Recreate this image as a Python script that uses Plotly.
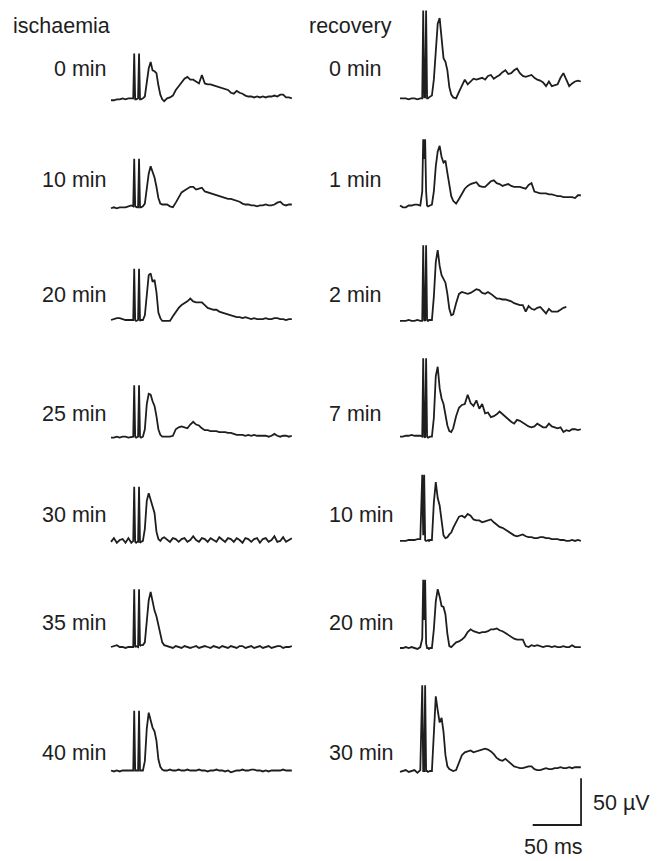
import plotly.graph_objects as go

# ---------------- data (time in ms, amplitude in microvolts) ----------------
t_ms = [0, 3, 6, 9, 12, 15, 18, 21,
        23, 24, 25, 26, 27, 28, 29, 30, 31,
        33, 35, 37, 39, 41, 43, 45, 47, 49, 51, 53, 55,
        58, 61, 64, 67, 70, 73, 76, 79, 82, 85, 88,
        91, 94, 97, 100, 103, 106, 109, 112, 115, 118, 121,
        124, 127, 130, 133, 136, 139, 142, 145, 148, 151, 154,
        157, 160, 163, 166, 169, 172, 175, 178, 181, 184, 187]

ischaemia_labels = ["0 min", "10 min", "20 min", "25 min", "30 min", "35 min", "40 min"]
recovery_labels = ["0 min", "1 min", "2 min", "7 min", "10 min", "20 min", "30 min"]

isch_0 = [-1, -1, 0, 0, 1, 0, 1, 1,
          1, 49, 0, 0, 1, 1, 49, 0, 0,
          1, 3, 18, 33, 40, 31, 30, 28, 15, 5, 0, -2,
          1, 2, 4, 10, 14, 18, 22, 24, 21, 21, 19,
          17, 26, 17, 16, 16, 15, 14, 13, 12, 11, 10,
          7, 6, 9, 7, 6, 4, 3, 3, 2, 3, 2,
          3, 2, 3, 3, 4, 3, 5, 5, 2, 2, 1]
isch_10 = [-1, 0, -1, 0, 0, 0, 1, 2,
           1, 52, 1, 0, 0, 0, 52, 0, 0,
           1, 4, 20, 36, 44, 38, 32, 22, 10, 4, 3, 3,
           3, 1, 0, 5, 11, 16, 18, 20, 22, 22, 19,
           20, 21, 17, 16, 15, 14, 13, 12, 11, 10, 9,
           9, 8, 7, 6, 4, 3, 3, 2, 2, 1, 2,
           2, 3, 2, 2, 3, 5, 6, 3, 2, 3, 3]
isch_20 = [0, 1, 2, 2, 1, 0, 0, 0,
           0, 55, 0, -1, 0, 0, 55, -1, 0,
           0, 5, 30, 48, 50, 41, 43, 30, 8, 2, -1, -1,
           -1, -1, 4, 9, 13, 16, 18, 20, 23, 20, 19,
           19, 19, 16, 13, 12, 11, 11, 9, 8, 7, 6,
           5, 4, 3, 3, 2, 3, 2, 1, 2, 1, 1,
           1, 2, 1, 1, 2, 2, 1, 1, 0, 1, 1]
isch_25 = [-1, -1, 0, -1, 0, 0, -1, 0,
           0, 55, 0, -1, 0, 0, 55, 0, -1,
           0, 8, 35, 46, 45, 38, 33, 22, 8, 2, 0, 0,
           0, 0, 1, 8, 10, 11, 10, 9, 13, 16, 13,
           12, 9, 7, 7, 6, 6, 6, 5, 5, 5, 4,
           4, 3, 2, 2, 2, 1, 2, 1, 2, 1, 1,
           1, 1, 0, 1, 3, 1, 0, 1, 1, 0, 1]
isch_30 = [-2, 2, -3, 0, 1, -3, 2, -3,
           -1, 57, -2, -3, -2, -2, 57, -3, -2,
           -1, 12, 42, 50, 42, 35, 29, 9, 1, -1, 2, 3,
           0, -2, 2, 1, -2, 1, 2, -2, 0, 4, 0,
           -2, 2, 1, -2, 2, 0, -2, 3, 0, -2, 2,
           1, -2, 2, 0, -3, 2, 1, -2, 1, 2, -3,
           1, 2, -2, 0, 4, -2, -1, 3, -2, 0, 2]
isch_35 = [0, 1, 2, 0, 0, -1, 0, 0,
           0, 62, 0, 1, 0, 0, 62, 1, 2,
           2, 5, 28, 50, 59, 48, 39, 33, 24, 13, 5, 2,
           1, 0, -1, 1, 0, -1, 1, 0, -1, 0, 1,
           -1, 0, 1, 0, -1, 1, 0, -1, 1, 0, -1,
           1, 0, -1, 1, 1, -1, 0, 1, -1, 0, 1,
           -1, 0, 1, -1, 0, 1, 1, -1, 0, 0, 1]
isch_40 = [0, -1, 0, -1, 0, 0, 0, 0,
           0, 64, 0, 0, 0, 0, 64, 0, 0,
           0, 10, 45, 62, 55, 46, 42, 32, 12, 4, 1, 0,
           0, 1, 0, 0, 1, 0, 0, 1, 0, 0, 0,
           1, 0, 0, -1, 0, 0, 1, 0, 0, -1, 0,
           -2, -1, 0, 0, 1, 0, 0, 1, 1, 0, 0,
           -1, 0, -1, 0, 0, 0, 0, 1, 0, 0, 0]

reco_0 = [0, 0, 0, -1, 0, 0, -1, 0,
          0, 94, 1, 1, 94, 0, 0, 1, 2,
          3, 20, 55, 80, 86, 60, 43, 39, 30, 12, 4, 1,
          0, 7, 14, 20, 15, 18, 21, 20, 21, 22, 20,
          24, 25, 21, 23, 25, 28, 30, 26, 27, 30, 32,
          27, 24, 23, 24, 25, 22, 20, 19, 17, 13, 18,
          13, 14, 15, 22, 27, 20, 13, 16, 18, 19, 18]
reco_1 = [0, -2, -2, 0, 0, 1, 1, 0,
          15, 71, 50, 71, 15, 0, -1, 0, 0,
          1, 15, 42, 58, 64, 52, 46, 48, 35, 22, 10, 5,
          2, 7, 13, 18, 21, 23, 24, 25, 21, 20, 20,
          23, 26, 27, 24, 23, 21, 22, 23, 21, 20, 20,
          20, 19, 18, 22, 24, 15, 14, 13, 13, 13, 12,
          12, 11, 10, 10, 9, 9, 9, 9, 8, 11, 11]
reco_2 = [-1, -1, -1, 0, -1, -1, 0, -1,
          -1, 80, 0, -1, 80, 0, -1, 0, 0,
          0, 25, 62, 75, 58, 48, 44, 40, 28, 12, 5, 6,
          18, 28, 30, 29, 28, 29, 31, 33, 32, 29, 28,
          30, 28, 25, 23, 23, 22, 22, 21, 20, 18, 17,
          16, 16, 9, 15, 12, 11, 13, 14, 10, 7, 12,
          9, 9, 9, 11, 13, 14, None, None, None, None, None]
reco_7 = [0, 0, 1, 1, 2, 1, 1, 1,
          0, 84, 0, -1, 84, 0, -1, 0, 0,
          0, 20, 65, 75, 52, 41, 35, 23, 12, 6, 5, 9,
          22, 31, 34, 35, 45, 36, 33, 39, 30, 35, 25,
          26, 21, 22, 24, 27, 24, 21, 18, 16, 14, 18,
          17, 15, 13, 11, 10, 11, 14, 12, 10, 10, 14,
          11, 10, 9, 10, 5, 7, 6, 8, 8, 7, 8]
reco_10 = [-1, -1, -1, 0, 0, 0, 1, 1,
           70, 5, 70, 0, -1, 0, 0, -1, 0,
           0, 40, 62, 45, 37, 22, 5, 2, 3, 6, 8, 13,
           19, 25, 26, 24, 28, 26, 22, 21, 21, 19, 20,
           21, 22, 19, 16, 14, 13, 11, 9, 7, 5, 4,
           5, 6, 4, 3, 3, 2, 2, 3, 3, 2, 2,
           1, 1, 1, 0, 0, -1, -1, 0, -1, 0, -1]
reco_20 = [0, 0, 1, 0, 1, 0, -1, 1,
           10, 73, 30, 73, 5, 0, 0, -1, 0,
           0, 20, 50, 63, 55, 45, 44, 36, 15, 2, 1, 3,
           6, 7, 9, 12, 17, 20, 18, 17, 16, 17, 17,
           18, 20, 20, 21, 19, 18, 16, 14, 12, 10, 9,
           9, 9, 2, 1, 3, 2, 3, 2, 1, 2, 2,
           1, 2, 1, 1, 2, 1, 1, 3, 1, 1, 1]
reco_30 = [-1, 0, 1, -1, 0, 1, -2, 1,
           92, 0, 0, 92, 0, 0, -1, 0, 0,
           0, 40, 80, 65, 52, 57, 42, 17, 5, 2, 1, 0,
           1, 10, 17, 20, 21, 22, 20, 21, 22, 23, 24,
           23, 21, 18, 14, 12, 11, 13, 10, 8, 5, 4,
           3, 3, 4, 5, 5, 2, 1, 1, 2, 3, 2,
           2, 3, 3, 4, 3, 3, 4, 3, 4, 4, 4]

ischaemia_uV = [isch_0, isch_10, isch_20, isch_25, isch_30, isch_35, isch_40]
recovery_uV = [reco_0, reco_1, reco_2, reco_7, reco_10, reco_20, reco_30]

scale_x_ms = [0, 50, 50]
scale_y_uV = [0, 0, 50]

for tr in ischaemia_uV + recovery_uV:
    assert len(tr) == len(t_ms), len(tr)

# ---------------- layout geometry (pixels) ----------------
W, H = 660, 861
PX_PER_MS = 0.967
PX_PER_UV = 0.933
X_RANGE = [-3, 192]
Y_RANGE = [-14, 101]
col_x0 = [111, 400]
base_y = [[99.3, 207.3, 320, 436.7, 540, 647, 770.5],
          [98.3, 205.5, 320, 436.7, 540, 648, 771]]
label_y = [69, 180.5, 295, 414, 514.5, 622.5, 753]
LINE = "#1e1e1e"
FONT = dict(family="Liberation Sans, Arial, sans-serif", size=21.5, color="#1e1e1e")

fig = go.Figure()
layout_axes = {}
panel = [0]


def add_panel(xs, ys, x0, b, xr, yr, width):
    panel[0] += 1
    k = panel[0]
    xname = "x" if k == 1 else f"x{k}"
    yname = "y" if k == 1 else f"y{k}"
    xdom = [(x0 + xr[0] * PX_PER_MS) / W, (x0 + xr[1] * PX_PER_MS) / W]
    ydom = [1 - (b - yr[0] * PX_PER_UV) / H, 1 - (b - yr[1] * PX_PER_UV) / H]
    layout_axes["xaxis" if k == 1 else f"xaxis{k}"] = dict(
        domain=xdom, range=xr, visible=False, fixedrange=True, anchor=yname)
    layout_axes["yaxis" if k == 1 else f"yaxis{k}"] = dict(
        domain=ydom, range=yr, visible=False, fixedrange=True, anchor=xname)
    fig.add_trace(go.Scatter(x=xs, y=ys, xaxis=xname, yaxis=yname, mode="lines",
                             line=dict(color=LINE, width=width, shape="linear"),
                             connectgaps=False, showlegend=False, hoverinfo="skip"))


for col, series in enumerate([ischaemia_uV, recovery_uV]):
    for row, vals in enumerate(series):
        add_panel(t_ms, vals, col_x0[col], base_y[col][row], X_RANGE, Y_RANGE, 1.8)

# scale bar (same ms / uV scaling as traces)
add_panel(scale_x_ms, scale_y_uV, 532.7, 825, [-3, 53], [-3, 53], 1.8)

annotations = []
annotations.append(dict(text="ischaemia", x=11 / W, y=1 - 26 / H, xanchor="left", yanchor="middle"))
annotations.append(dict(text="recovery", x=307 / W, y=1 - 26 / H, xanchor="left", yanchor="middle"))
for i, lab in enumerate(ischaemia_labels):
    annotations.append(dict(text=lab, x=109 / W, y=1 - label_y[i] / H, xanchor="right", yanchor="middle"))
for i, lab in enumerate(recovery_labels):
    annotations.append(dict(text=lab, x=327 / W, y=1 - label_y[i] / H, xanchor="left", yanchor="middle"))
annotations.append(dict(text="50 µV", x=591 / W, y=1 - 803 / H, xanchor="left", yanchor="middle"))
annotations.append(dict(text="50 ms", x=553 / W, y=1 - 847 / H, xanchor="center", yanchor="middle"))
for a in annotations:
    a.update(xref="paper", yref="paper", showarrow=False, font=FONT)

fig.update_layout(width=W, height=H, margin=dict(l=0, r=0, t=0, b=0),
                  paper_bgcolor="white", plot_bgcolor="rgba(0,0,0,0)",
                  annotations=annotations, showlegend=False, **layout_axes)

fig.write_html("out.html", config={"displayModeBar": False},
               post_script="document.body.style.margin='0';document.body.style.padding='0';")
